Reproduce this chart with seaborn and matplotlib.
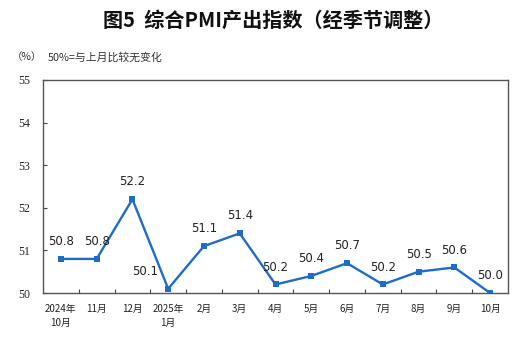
import matplotlib
matplotlib.use("Agg")
import matplotlib.pyplot as plt
import seaborn as sns
import pandas as pd
import numpy as np

months = ["2024年\n10月", "11月", "12月", "2025年\n1月", "2月", "3月", "4月",
          "5月", "6月", "7月", "8月", "9月", "10月"]
values = [50.8, 50.8, 52.2, 50.1, 51.1, 51.4, 50.2, 50.4, 50.7, 50.2, 50.5, 50.6, 50.0]
yticks = [50, 51, 52, 53, 54, 55]

sns.set_theme(style="white")
plt.rcParams['font.family'] = ['Noto Sans CJK SC', 'DejaVu Sans']

df = pd.DataFrame({"month": months, "value": values})

fig = plt.figure(figsize=(5.28, 3.44), dpi=100)
ax = fig.add_axes([43/528, 1-293/344, (508-43)/528, (293-80)/344])

color = "#1E6CC8"
sns.lineplot(data=df, x="month", y="value", sort=False, ax=ax, color=color,
             linewidth=1.7, marker="s", markersize=5, markeredgewidth=0,
             markerfacecolor=color)

for i, v in enumerate(values):
    dx = -0.65 if i == 3 else 0
    ax.annotate(f"{v:.1f}", (i, v), xytext=(dx * 35.8 * 0.72, 12.5), textcoords="offset points",
                ha="center", va="center", fontsize=8.5, color="#222222",
                family="DejaVu Sans")

ax.set_xlim(-0.5, len(months) - 0.5)
ax.set_ylim(yticks[0], yticks[-1])
ax.set_yticks(yticks)
ax.set_yticklabels([str(t) for t in yticks], family="Liberation Serif", fontsize=8.5)
ax.set_xticks(range(len(months)))
ax.set_xticklabels(months, fontsize=7, linespacing=1.45)
ax.set_xticks(np.arange(0.5, len(months) - 1, 1), minor=True)
ax.tick_params(axis="x", which="major", length=0, pad=8, colors="#222222")
ax.tick_params(axis="x", which="minor", direction="in", length=3, width=0.8,
               color="#444444", bottom=True)
ax.tick_params(axis="y", direction="in", length=3, width=0.8, color="#444444",
               pad=9, left=True, labelcolor="#222222")
ax.set_xlabel("")
ax.set_ylabel("")
for s in ax.spines.values():
    s.set_color("#555555")
    s.set_linewidth(1.0)
    s.set_visible(True)

fig.text(0.517, 1 - 20/344, "图5  综合PMI产出指数（经季节调整）", ha="center", va="center",
         fontsize=14.5, fontweight="bold", color="#111111")
fig.text(12/528, 1 - 57/344, "（%）", ha="left", va="center", fontsize=7.5, color="#333333")
fig.text(48/528, 1 - 57/344, "50%=与上月比较无变化", ha="left", va="center", fontsize=7.8,
         color="#333333")

fig.savefig("out.png", dpi=100)
